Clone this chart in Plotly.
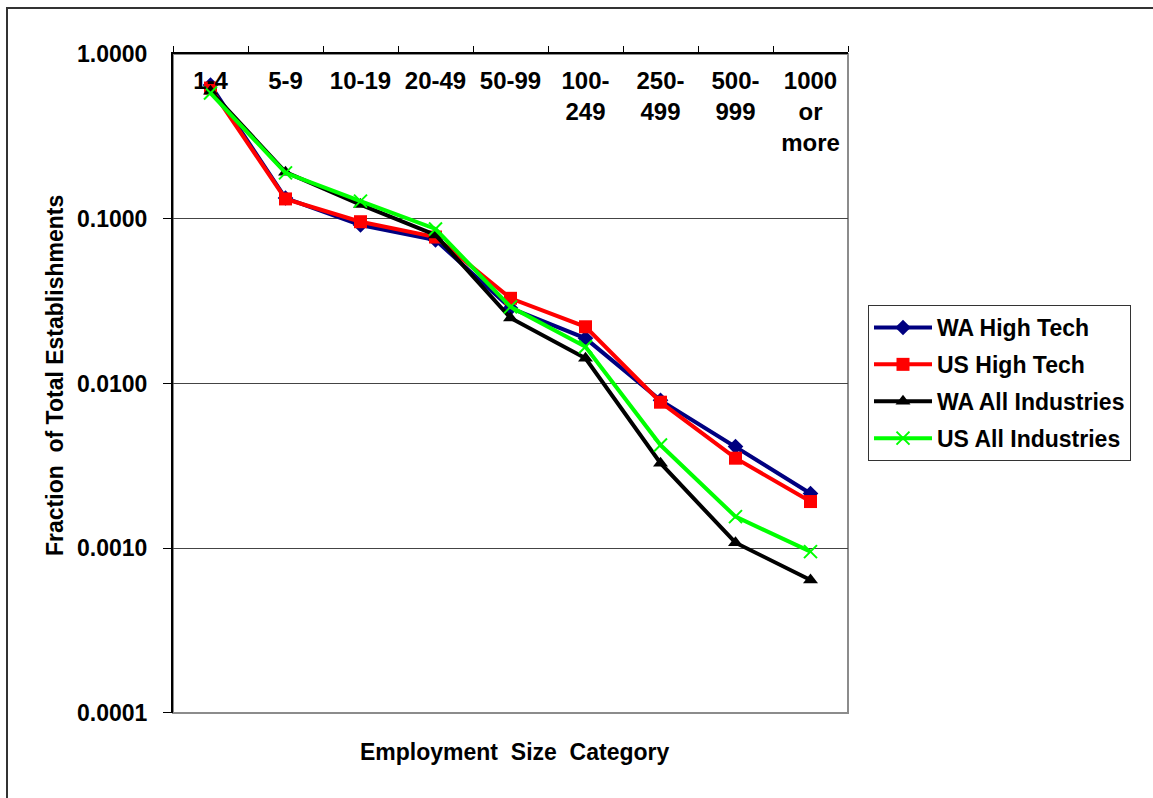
import plotly.graph_objects as go

# Employment size categories (labels shown along the top axis)
categories = ["1-4", "5-9", "10-19", "20-49", "50-99",
              "100-249", "250-499", "500-999", "1000 or more"]
category_labels = ["1-4", "5-9", "10-19", "20-49", "50-99",
                   "100-<br>249", "250-<br>499", "500-<br>999", "1000<br>or<br>more"]

# Fraction of total establishments in each size category
wa_high_tech = [0.648, 0.1336, 0.0916, 0.0743, 0.0287, 0.0188, 0.0079, 0.00414, 0.00215]
us_high_tech = [0.622, 0.132, 0.096, 0.0775, 0.0329, 0.0221, 0.0077, 0.00352, 0.00192]
wa_all_industries = [0.595, 0.192, 0.122, 0.0797, 0.0250, 0.01422, 0.00328, 0.00108, 0.000641]
us_all_industries = [0.580, 0.190, 0.128, 0.0867, 0.0292, 0.0167, 0.00423, 0.001555, 0.000953]

y_tick_vals = [1, 0.1, 0.01, 0.001, 0.0001]
y_tick_text = ["1.0000", "0.1000", "0.0100", "0.0010", "0.0001"]

FONT = "Liberation Sans, Arial, sans-serif"
TICK_FONT = dict(family=FONT, size=23, color="black", weight="bold")

series = [
    ("WA High Tech", wa_high_tech, "#000080", "diamond", 12, 0),
    ("US High Tech", us_high_tech, "#FF0000", "square", 13, 0),
    ("WA All Industries", wa_all_industries, "#000000", "triangle-up", 13, 0),
    ("US All Industries", us_all_industries, "#00FF00", "x-thin", 13, 2),
]

fig = go.Figure()
for i, (name, values, color, symbol, size, lw) in enumerate(series):
    fig.add_trace(go.Scatter(
        x=categories, y=values, name=name, mode="lines+markers",
        legendgroup=f"g{i}",
        line=dict(color=color, width=4),
        marker=dict(symbol=symbol, size=size, color=color,
                    line=dict(color=color, width=lw)),
    ))

# Plot-area frame: grey right and bottom edges
fig.add_shape(type="rect", xref="paper", yref="paper", x0=0, x1=1, y0=0, y1=1,
              line=dict(color="#8c8c8c", width=2), layer="below")
# Outer chart frame
fig.add_shape(type="rect", xref="paper", yref="paper",
              x0=(7 - 173) / 675, x1=(1170 - 173) / 675,
              y0=(713 - 820) / 659, y1=(713 - 8) / 659,
              line=dict(color="#333333", width=2), layer="below")

# Top tick label of the log axis (Plotly hides it next to the inside category labels)
fig.add_annotation(text=y_tick_text[0], xref="paper", yref="y",
                   x=(149 - 173) / 675, y=0, showarrow=False,
                   font=TICK_FONT, xanchor="right", yanchor="middle")

fig.add_annotation(text="Employment  Size  Category", xref="paper", yref="paper",
                   x=(515 - 173) / 675, y=(713 - 752) / 659, showarrow=False,
                   font=dict(family=FONT, size=23, color="black", weight="bold"),
                   xanchor="center", yanchor="middle")
fig.add_annotation(text="Fraction  of Total Establishments", xref="paper", yref="paper",
                   x=(55 - 173) / 675, y=(713 - 376) / 659, showarrow=False, textangle=-90,
                   font=dict(family=FONT, size=23, color="black", weight="bold"),
                   xanchor="center", yanchor="middle")

fig.update_layout(
    width=1153, height=798,
    margin=dict(l=173, r=305, t=54, b=85),
    paper_bgcolor="white", plot_bgcolor="white",
    font=dict(family=FONT, color="black", weight="bold"),
    showlegend=True,
    legend=dict(
        x=(868 - 173) / 675, y=(713 - 305) / 659, xanchor="left", yanchor="top",
        bordercolor="#333333", borderwidth=1, bgcolor="white",
        font=dict(family=FONT, size=23, color="black", weight="bold"),
        traceorder="grouped", tracegroupgap=4, itemwidth=58,
    ),
    xaxis=dict(
        type="category", side="top", range=[-0.5, 8.5],
        tickmode="array", tickvals=categories, ticktext=category_labels,
        ticklabelposition="inside", ticks="outside", tickson="boundaries",
        ticklen=6, tickcolor="black", tickwidth=1,
        showline=True, linecolor="black", linewidth=2,
        showgrid=False, zeroline=False, ticklabelstandoff=20,
        tickfont=dict(family=FONT, size=24, color="black", weight="bold"),
    ),
    yaxis=dict(
        type="log", range=[-4.0005, 0.0005],
        tickmode="array", tickvals=y_tick_vals, ticktext=y_tick_text,
        ticks="outside", ticklen=8, tickcolor="black", tickwidth=1,
        showline=True, linecolor="black", linewidth=2,
        showgrid=True, gridcolor="#444444", gridwidth=1,
        zeroline=False, ticklabelstandoff=11,
        tickfont=TICK_FONT,
    ),
)

fig.write_html("out.html")
